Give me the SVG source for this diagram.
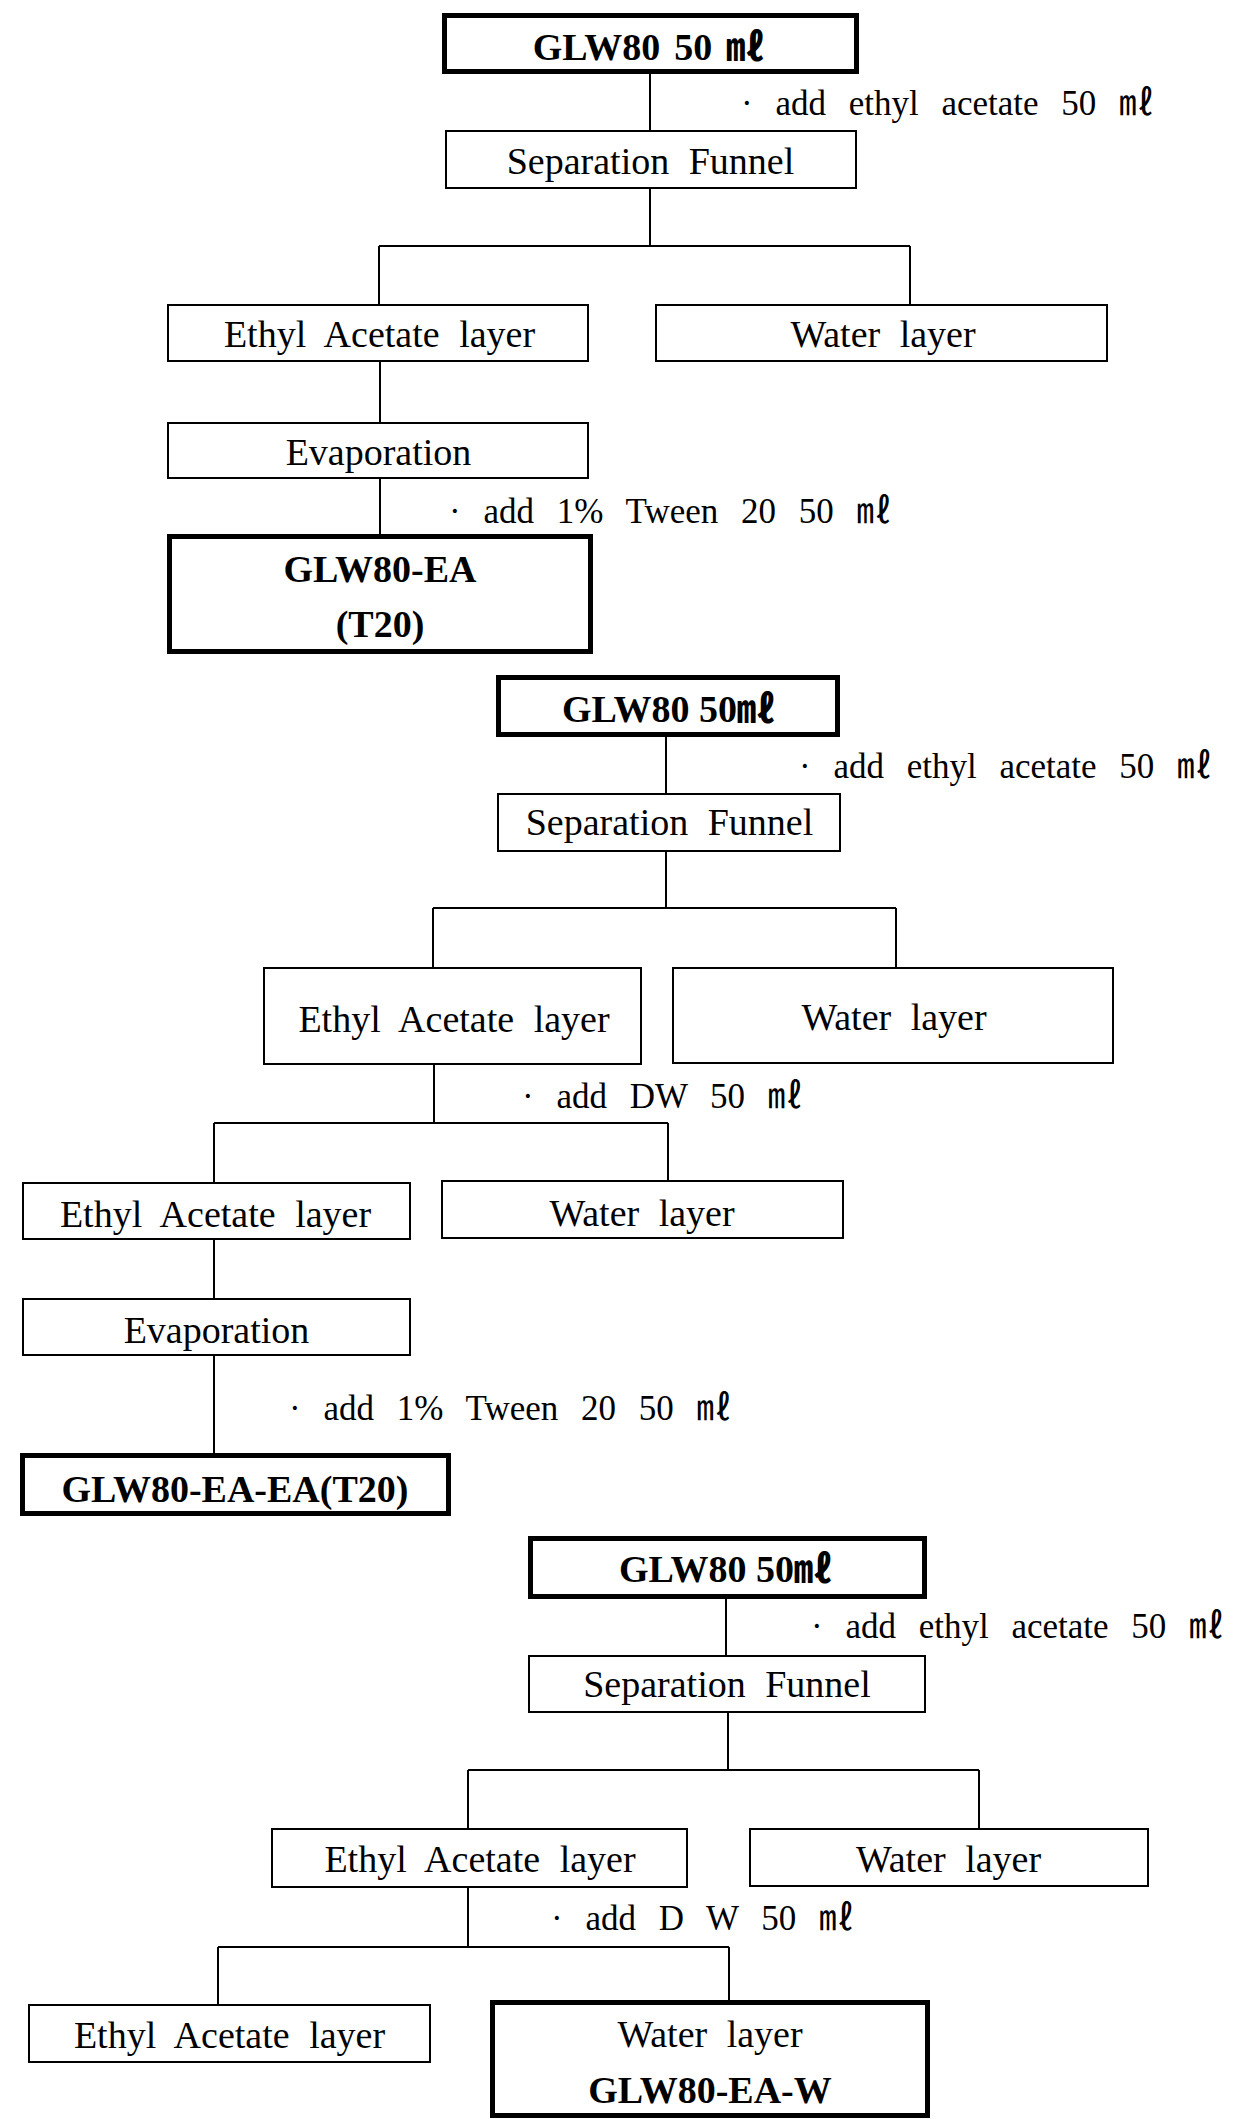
<svg xmlns="http://www.w3.org/2000/svg" width="1234" height="2119" viewBox="0 0 1234 2119">
<style>
.bg{fill:#fff}
.box{fill:#fff;stroke:#000;stroke-width:2}
.bold-box{fill:#fff;stroke:#000;stroke-width:5}
.t{font-family:"Liberation Serif","Noto Sans CJK KR",serif;font-size:38px;fill:#000;text-anchor:middle;word-spacing:10px}
.b{font-family:"Liberation Serif","Noto Sans CJK KR",serif;font-size:38px;font-weight:bold;fill:#000;text-anchor:middle}
.lbl{font-family:"Liberation Serif","Noto Sans CJK KR",serif;font-size:35px;fill:#000;word-spacing:14px}
.conn line{stroke:#000;stroke-width:2}
</style>
<rect class="bg" x="0" y="0" width="1234" height="2119"/>
<g id="connectors" class="conn">
<line x1="650" y1="74" x2="650" y2="130"/>
<line x1="650" y1="189" x2="650" y2="246"/>
<line x1="379" y1="246" x2="910" y2="246"/>
<line x1="379" y1="246" x2="379" y2="304"/>
<line x1="910" y1="246" x2="910" y2="304"/>
<line x1="380" y1="362" x2="380" y2="422"/>
<line x1="380" y1="479" x2="380" y2="534"/>
<line x1="666" y1="737" x2="666" y2="793"/>
<line x1="666" y1="852" x2="666" y2="908"/>
<line x1="433" y1="908" x2="896" y2="908"/>
<line x1="433" y1="908" x2="433" y2="967"/>
<line x1="896" y1="908" x2="896" y2="967"/>
<line x1="434" y1="1065" x2="434" y2="1123"/>
<line x1="214" y1="1123" x2="668" y2="1123"/>
<line x1="214" y1="1123" x2="214" y2="1182"/>
<line x1="668" y1="1123" x2="668" y2="1180"/>
<line x1="214" y1="1240" x2="214" y2="1298"/>
<line x1="214" y1="1356" x2="214" y2="1453"/>
<line x1="726" y1="1599" x2="726" y2="1655"/>
<line x1="728" y1="1713" x2="728" y2="1770"/>
<line x1="468" y1="1770" x2="979" y2="1770"/>
<line x1="468" y1="1770" x2="468" y2="1828"/>
<line x1="979" y1="1770" x2="979" y2="1828"/>
<line x1="468" y1="1888" x2="468" y2="1947"/>
<line x1="218" y1="1947" x2="729" y2="1947"/>
<line x1="218" y1="1947" x2="218" y2="2004"/>
<line x1="729" y1="1947" x2="729" y2="2000"/>
</g>
<g id="labels">
<text class="lbl" x="741" y="115" word-spacing="14.5">· add ethyl acetate 50 ㎖</text>
<text class="lbl" x="449" y="523">· add 1% Tween 20 50 ㎖</text>
<text class="lbl" x="799" y="778" word-spacing="14.5">· add ethyl acetate 50 ㎖</text>
<text class="lbl" x="522" y="1108" word-spacing="13.5">· add DW 50 ㎖</text>
<text class="lbl" x="289" y="1420">· add 1% Tween 20 50 ㎖</text>
<text class="lbl" x="811" y="1638" word-spacing="14.5">· add ethyl acetate 50 ㎖</text>
<text class="lbl" x="551" y="1930" word-spacing="13">· add D W 50 ㎖</text>
</g>
<g id="n1"><rect class="bold-box" x="444.5" y="15.5" width="412" height="56"/><text class="b" x="648.5" y="60" font-size="40" word-spacing="4.5">GLW80 50 ㎖</text></g>
<g id="n2"><rect class="box" x="446" y="131" width="410" height="57"/><text class="t" x="650.5" y="174" word-spacing="8">Separation Funnel</text></g>
<g id="n3"><rect class="box" x="168" y="305" width="420" height="56"/><text class="t" x="379.5" y="347">Ethyl Acetate layer</text></g>
<g id="n4"><rect class="box" x="656" y="305" width="451" height="56"/><text class="t" x="883" y="347">Water layer</text></g>
<g id="n5"><rect class="box" x="168" y="423" width="420" height="55"/><text class="t" x="378.5" y="465">Evaporation</text></g>
<g id="n6"><rect class="bold-box" x="169.5" y="536.5" width="421" height="115"/><text class="b" x="380" y="582">GLW80-EA</text><text class="b" x="380" y="637">(T20)</text></g>
<g id="n7"><rect class="bold-box" x="498.5" y="677.5" width="339" height="57"/><text class="b" x="668.5" y="722" font-size="40">GLW80 50㎖</text></g>
<g id="n8"><rect class="box" x="498" y="794" width="342" height="57"/><text class="t" x="669.5" y="835" word-spacing="8">Separation Funnel</text></g>
<g id="n9"><rect class="box" x="264" y="968" width="377" height="96"/><text class="t" x="454" y="1032">Ethyl Acetate layer</text></g>
<g id="n10"><rect class="box" x="673" y="968" width="440" height="95"/><text class="t" x="894" y="1030">Water layer</text></g>
<g id="n11"><rect class="box" x="23" y="1183" width="387" height="56"/><text class="t" x="215.5" y="1227">Ethyl Acetate layer</text></g>
<g id="n12"><rect class="box" x="442" y="1181" width="401" height="57"/><text class="t" x="642" y="1226">Water layer</text></g>
<g id="n13"><rect class="box" x="23" y="1299" width="387" height="56"/><text class="t" x="216.5" y="1343">Evaporation</text></g>
<g id="n14"><rect class="bold-box" x="22.5" y="1455.5" width="426" height="58"/><text class="b" x="235" y="1502">GLW80-EA-EA(T20)</text></g>
<g id="n15"><rect class="bold-box" x="530.5" y="1538.5" width="394" height="58"/><text class="b" x="725.5" y="1582" font-size="40">GLW80 50㎖</text></g>
<g id="n16"><rect class="box" x="529" y="1656" width="396" height="56"/><text class="t" x="727" y="1697" word-spacing="8">Separation Funnel</text></g>
<g id="n17"><rect class="box" x="272" y="1829" width="415" height="58"/><text class="t" x="480" y="1872">Ethyl Acetate layer</text></g>
<g id="n18"><rect class="box" x="750" y="1829" width="398" height="57"/><text class="t" x="948.5" y="1872">Water layer</text></g>
<g id="n19"><rect class="box" x="29" y="2005" width="401" height="57"/><text class="t" x="229.5" y="2048">Ethyl Acetate layer</text></g>
<g id="n20"><rect class="bold-box" x="492.5" y="2002.5" width="435" height="113"/><text class="t" x="710" y="2047">Water layer</text><text class="b" x="710" y="2103">GLW80-EA-W</text></g>
</svg>
